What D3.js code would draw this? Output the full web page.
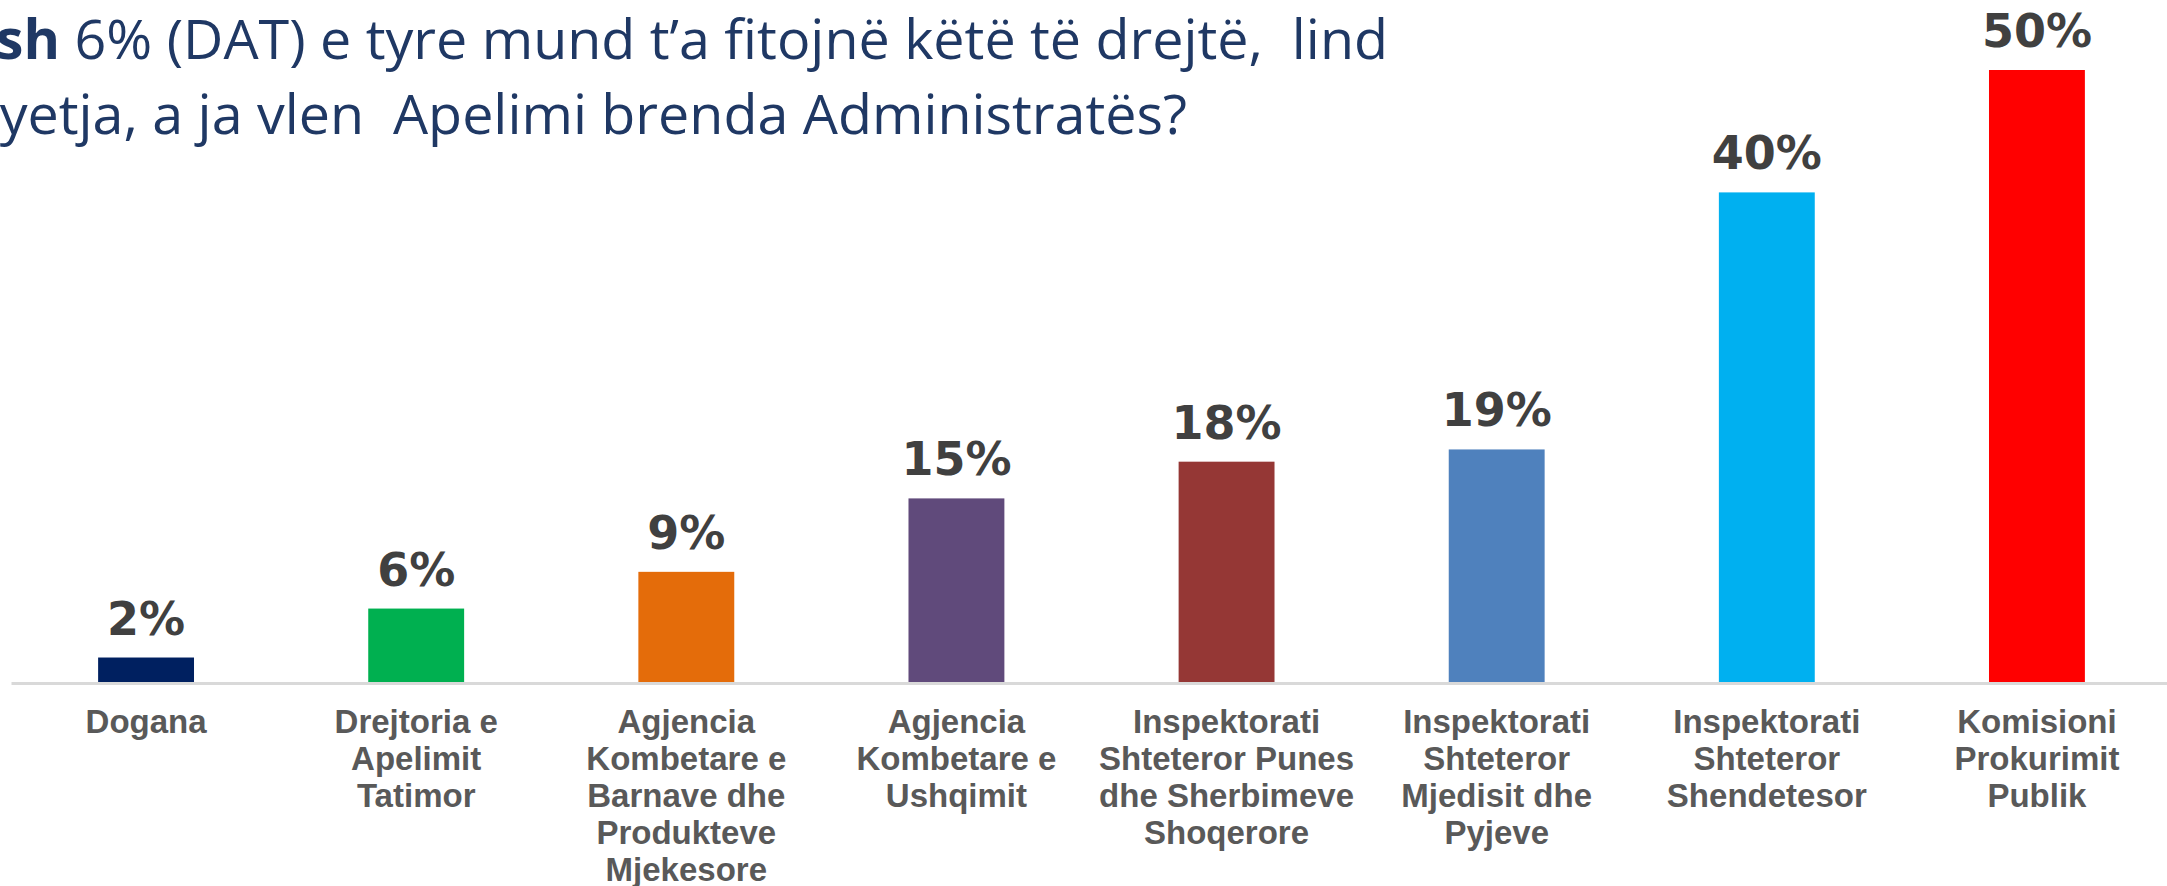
<!DOCTYPE html>
<html>
<head>
<meta charset="utf-8">
<script src="https://cdn.jsdelivr.net/npm/d3@7"></script>
<style>
  body { margin: 0; background: #fff; }
  svg { display: block; }
</style>
</head>
<body>
<script>
var categories = ["Dogana", "Drejtoria e Apelimit Tatimor", "Agjencia Kombetare e Barnave dhe Produkteve Mjekesore",
  "Agjencia Kombetare e Ushqimit", "Inspektorati Shteteror Punes dhe Sherbimeve Shoqerore",
  "Inspektorati Shteteror Mjedisit dhe Pyjeve", "Inspektorati Shteteror Shendetesor", "Komisioni Prokurimit Publik"];

var categoryLines = [
  ["Dogana"],
  ["Drejtoria e", "Apelimit", "Tatimor"],
  ["Agjencia", "Kombetare e", "Barnave dhe", "Produkteve", "Mjekesore"],
  ["Agjencia", "Kombetare e", "Ushqimit"],
  ["Inspektorati", "Shteteror Punes", "dhe Sherbimeve", "Shoqerore"],
  ["Inspektorati", "Shteteror", "Mjedisit dhe", "Pyjeve"],
  ["Inspektorati", "Shteteror", "Shendetesor"],
  ["Komisioni", "Prokurimit", "Publik"]
];

var values = [2, 6, 9, 15, 18, 19, 40, 50];

var barColors = ["#002060", "#00B050", "#E46C0A", "#604A7B", "#953735", "#4F81BD", "#00B0F0", "#FF0000"];

var titleLine1 = [{ text: "sh", bold: true }, { text: " 6% (DAT) e tyre mund t\u2019a fitojn\u00eb k\u00ebt\u00eb t\u00eb drejt\u00eb,  lind", bold: false }];
var titleLine2 = "yetja, a ja vlen  Apelimi brenda Administrat\u00ebs?";

var width = 2167,
    height = 886;

var svg = d3.select("body").append("svg")
    .attr("width", width)
    .attr("height", height);

var x = d3.scaleBand()
    .domain(categories)
    .range([11, 2172])
    .paddingInner(0.645)
    .paddingOuter(0.3225);

var y = d3.scaleLinear()
    .domain([0, 50])
    .range([682, 70]);

// title (cut off on the left, as in the slide)
var t1 = svg.append("text")
    .attr("x", 1388)
    .attr("y", 59)
    .attr("text-anchor", "end")
    .style("font-family", "'Open Sans', sans-serif")
    .style("font-size", "55.6px")
    .style("fill", "#1F3864");
t1.selectAll("tspan")
    .data(titleLine1)
  .enter().append("tspan")
    .style("font-weight", function(d) { return d.bold ? "bold" : "normal"; })
    .style("white-space", "pre")
    .text(function(d) { return d.text; });

svg.append("text")
    .attr("x", 1187)
    .attr("y", 134)
    .attr("text-anchor", "end")
    .style("font-family", "'Open Sans', sans-serif")
    .style("font-size", "55.6px")
    .style("white-space", "pre")
    .style("fill", "#1F3864")
    .text(titleLine2);

// baseline
var axis = svg.append("g")
    .attr("transform", "translate(0," + (y(0) + 1) + ")")
    .call(d3.axisBottom(x).tickSize(0).tickSizeOuter(0).tickFormat(""));
axis.select(".domain")
    .attr("stroke", "#D9D9D9")
    .attr("stroke-width", 3);

// bars
svg.selectAll(".bar")
    .data(values)
  .enter().append("rect")
    .attr("class", "bar")
    .attr("x", function(d, i) { return x(categories[i]); })
    .attr("y", function(d) { return y(d); })
    .attr("width", x.bandwidth())
    .attr("height", function(d) { return y(0) - y(d); })
    .style("fill", function(d, i) { return barColors[i]; });

// value labels
svg.selectAll(".val")
    .data(values)
  .enter().append("text")
    .attr("class", "val")
    .attr("x", function(d, i) { return x(categories[i]) + x.bandwidth() / 2; })
    .attr("y", function(d) { return y(d) - 23; })
    .attr("text-anchor", "middle")
    .style("font-family", "'DejaVu Sans', Verdana, sans-serif")
    .style("font-weight", "bold")
    .style("font-size", "46px")
    .style("fill", "#404040")
    .text(function(d) { return d + "%"; });

// category labels
var cat = svg.selectAll(".cat")
    .data(categoryLines)
  .enter().append("text")
    .attr("class", "cat")
    .attr("text-anchor", "middle")
    .style("font-family", "'Liberation Sans', Arial, sans-serif")
    .style("font-weight", "bold")
    .style("font-size", "33px")
    .style("fill", "#595959");

cat.each(function(lines, i) {
  var cx = x(categories[i]) + x.bandwidth() / 2;
  d3.select(this).selectAll("tspan")
      .data(lines)
    .enter().append("tspan")
      .attr("x", cx)
      .attr("y", function(d, j) { return 733 + j * 37; })
      .text(function(d) { return d; });
});
</script>
</body>
</html>
